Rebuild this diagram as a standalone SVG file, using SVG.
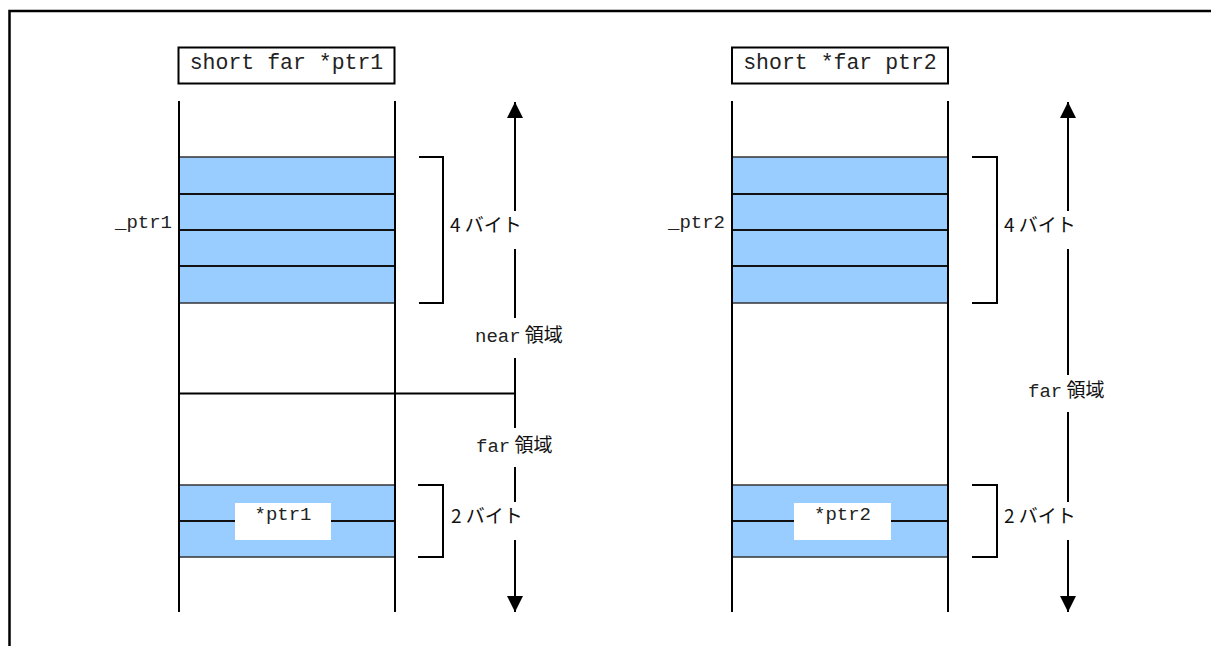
<svg xmlns="http://www.w3.org/2000/svg" width="1211" height="646" viewBox="0 0 1211 646">
<defs>
<style>
.ln{stroke:#000;stroke-width:2;fill:none}
.blue{fill:#99ccff;stroke:#333;stroke-width:1.5}
.div{stroke:#111;stroke-width:2}
.mono{font-family:"Liberation Mono","Noto Sans CJK JP",monospace;fill:#222}
.jp{font-family:"Noto Sans CJK JP","Noto Sans",sans-serif;fill:#111}
.title{font-size:21.5px}
.lbl{font-size:19px}
</style>
<marker id="ah" viewBox="0 0 16 16" refX="16" refY="8" markerWidth="16" markerHeight="16" markerUnits="userSpaceOnUse" orient="auto-start-reverse">
<path d="M0,0 L16,8 L0,16 z" fill="#000"/>
</marker>
</defs>
<rect x="0" y="0" width="1211" height="646" fill="#fff"/>
<path d="M9.5,646 V11 H1211" stroke="#000" stroke-width="2.5" fill="none"/>

<g id="left-title">
<rect x="178.5" y="47.5" width="216" height="36" fill="#fff" stroke="#000" stroke-width="2"/>
<text class="mono title" x="286.5" y="68.5" text-anchor="middle">short far *ptr1</text>
</g>
<g id="left-memory">
<rect class="blue" x="179" y="157" width="216" height="146"/>
<line class="div" x1="179" y1="194" x2="395" y2="194"/>
<line class="div" x1="179" y1="230" x2="395" y2="230"/>
<line class="div" x1="179" y1="266" x2="395" y2="266"/>
<rect class="blue" x="179" y="485" width="216" height="72"/>
<line class="div" x1="179" y1="521" x2="395" y2="521"/>
<line class="ln" x1="179" y1="101" x2="179" y2="612"/>
<line class="ln" x1="395" y1="101" x2="395" y2="612"/>
<rect x="235" y="503" width="96" height="37" fill="#fff"/>
<text class="mono lbl" x="283" y="520" text-anchor="middle">*ptr1</text>
<text class="mono lbl" x="172" y="228" text-anchor="end">_ptr1</text>
</g>

<g id="right-title">
<rect x="732" y="47.5" width="216" height="36" fill="#fff" stroke="#000" stroke-width="2"/>
<text class="mono title" x="840" y="68.5" text-anchor="middle">short *far ptr2</text>
</g>
<g id="right-memory">
<rect class="blue" x="732" y="157" width="216" height="146"/>
<line class="div" x1="732" y1="194" x2="948" y2="194"/>
<line class="div" x1="732" y1="230" x2="948" y2="230"/>
<line class="div" x1="732" y1="266" x2="948" y2="266"/>
<rect class="blue" x="732" y="485" width="216" height="72"/>
<line class="div" x1="732" y1="521" x2="948" y2="521"/>
<line class="ln" x1="732" y1="101" x2="732" y2="612"/>
<line class="ln" x1="948" y1="101" x2="948" y2="612"/>
<rect x="794" y="503" width="97" height="37" fill="#fff"/>
<text class="mono lbl" x="842.5" y="520" text-anchor="middle">*ptr2</text>
<text class="mono lbl" x="725" y="228" text-anchor="end">_ptr2</text>
</g>

<g id="connectors">
<path class="ln" marker-start="url(#ah)" marker-end="url(#ah)" d="M515,102 V211 M515,249 V318 M515,358 V428 M515,467 V502 M515,540 V612"/>
<line class="ln" x1="179" y1="393.5" x2="515" y2="393.5"/>
<path class="ln" d="M419,157 H443 V303 H419"/>
<path class="ln" d="M418,485 H443 V557 H418"/>
<path class="ln" marker-start="url(#ah)" marker-end="url(#ah)" d="M1068,102 V211 M1068,249 V375 M1068,412 V502 M1068,540 V612"/>
<path class="ln" d="M972,157 H997 V303 H972"/>
<path class="ln" d="M972,485 H997 V557 H972"/>
</g>

<g id="left-labels">
<text class="jp lbl" x="450" y="232">4 バイト</text>
<text class="mono lbl" x="475" y="342">near<tspan class="jp"> 領域</tspan></text>
<text class="mono lbl" x="476" y="452">far<tspan class="jp"> 領域</tspan></text>
<text class="jp lbl" x="451" y="523">2 バイト</text>
</g>
<g id="right-labels">
<text class="jp lbl" x="1004" y="232">4 バイト</text>
<text class="mono lbl" x="1028" y="397">far<tspan class="jp"> 領域</tspan></text>
<text class="jp lbl" x="1004" y="523">2 バイト</text>
</g>
</svg>
